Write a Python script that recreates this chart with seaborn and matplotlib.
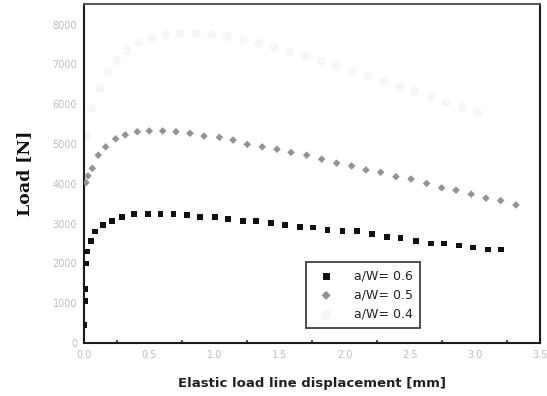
import matplotlib
matplotlib.use("Agg")
import matplotlib.pyplot as plt
import seaborn as sns
import pandas as pd
from matplotlib.ticker import MultipleLocator

# ---- data ----
x_06 = [0.004, 0.008, 0.012, 0.016, 0.022, 0.054, 0.082, 0.148, 0.217, 0.294, 0.384, 0.489,
        0.588, 0.686, 0.788, 0.890, 1.005, 1.105, 1.218, 1.320, 1.433, 1.543,
        1.658, 1.760, 1.870, 1.985, 2.093, 2.208, 2.328, 2.430, 2.546, 2.661,
        2.763, 2.878, 2.988, 3.103, 3.198]
y_06 = [450, 1050, 1350, 2000, 2300, 2570, 2800, 2960, 3070, 3170, 3240, 3240,
        3240, 3240, 3210, 3170, 3170, 3120, 3070, 3070, 3010, 2960,
        2920, 2900, 2840, 2820, 2810, 2740, 2670, 2630, 2570, 2500,
        2500, 2450, 2400, 2350, 2350]

x_05 = [0.015, 0.030, 0.064, 0.110, 0.166, 0.243, 0.317, 0.409, 0.501, 0.604, 0.706,
        0.814, 0.921, 1.039, 1.144, 1.253, 1.368, 1.481, 1.589, 1.709, 1.824,
        1.939, 2.054, 2.164, 2.277, 2.394, 2.510, 2.630, 2.745, 2.855, 2.972,
        3.085, 3.198, 3.315]
y_05 = [4030, 4200, 4390, 4720, 4930, 5130, 5230, 5310, 5330, 5330, 5310,
        5270, 5200, 5170, 5100, 4990, 4930, 4870, 4790, 4720, 4620,
        4520, 4450, 4350, 4290, 4180, 4120, 4010, 3900, 3840, 3740,
        3640, 3580, 3470]

x_04 = [0.02, 0.06, 0.12, 0.18, 0.25, 0.33, 0.42, 0.52, 0.63, 0.74, 0.86, 0.98,
        1.10, 1.22, 1.34, 1.46, 1.58, 1.70, 1.82, 1.94, 2.06, 2.18, 2.30, 2.42,
        2.54, 2.66, 2.78, 2.90, 3.02]
y_04 = [5200, 5900, 6400, 6800, 7100, 7350, 7550, 7680, 7750, 7780, 7780, 7750,
        7700, 7620, 7530, 7430, 7320, 7200, 7080, 6950, 6830, 6700, 6580, 6450,
        6320, 6180, 6050, 5920, 5780]

labels = ["a/W= 0.6", "a/W= 0.5", "a/W= 0.4"]
x_ticks = [0.0, 0.5, 1.0, 1.5, 2.0, 2.5, 3.0, 3.5]
y_ticks = [0, 1000, 2000, 3000, 4000, 5000, 6000, 7000, 8000]

sns.set_style("white")
plt.rcParams['font.family'] = ['DejaVu Sans']

fig = plt.figure(figsize=(5.47, 3.96), dpi=100)
ax = fig.add_axes([84/547, 1-343/396, 456/547, 339/396])

d06 = pd.DataFrame({"x": x_06, "y": y_06})
d05 = pd.DataFrame({"x": x_05, "y": y_05})
d04 = pd.DataFrame({"x": x_04, "y": y_04})

sns.scatterplot(data=d06, x="x", y="y", ax=ax, marker="s", s=17, color="#111111",
                edgecolor="none", label=labels[0], zorder=3)
sns.scatterplot(data=d05, x="x", y="y", ax=ax, marker="D", s=15, color="#939393",
                edgecolor="none", label=labels[1], zorder=3)
sns.scatterplot(data=d04, x="x", y="y", ax=ax, marker="o", s=40, color="#f6f6f6",
                edgecolor="none", label=labels[2], zorder=2)

ax.set_xlim(0, 3.5)
ax.set_ylim(0, 8520)
ax.set_xticks(x_ticks)
ax.set_xticklabels([f"{v:.1f}" for v in x_ticks])
ax.set_yticks(y_ticks)
ax.set_yticklabels([str(v) for v in y_ticks])
ax.xaxis.set_minor_locator(MultipleLocator(0.25))

ax.tick_params(axis="both", which="major", direction="in", length=4, width=1.3,
               colors="#222222", labelcolor="#bdbdbd", labelsize=7, pad=5)
ax.tick_params(axis="x", which="minor", direction="in", length=2.5, width=1.1,
               colors="#222222", bottom=True)
for side in ["left", "bottom", "right"]:
    ax.spines[side].set_linewidth(1.5)
    ax.spines[side].set_color("#1a1a1a")
ax.spines["top"].set_linewidth(1.4)
ax.spines["top"].set_color("#555555")

ax.set_xlabel("Elastic load line displacement [mm]", fontsize=9.5, fontweight="bold",
              color="#222222", labelpad=12)
ax.set_ylabel("Load [N]", fontsize=12.5, fontweight="bold", family="DejaVu Serif",
              color="#111111", labelpad=14)

leg = ax.legend(loc="lower right", bbox_to_anchor=(0.737, 0.043), borderaxespad=0,
                frameon=True, fancybox=False, fontsize=9, handletextpad=1.2,
                borderpad=0.6, labelspacing=0.5, markerscale=1.2)
leg.get_frame().set_edgecolor("#111111")
leg.get_frame().set_linewidth(1.3)
for t in leg.get_texts():
    t.set_color("#222222")

fig.savefig("out.png", dpi=100)
